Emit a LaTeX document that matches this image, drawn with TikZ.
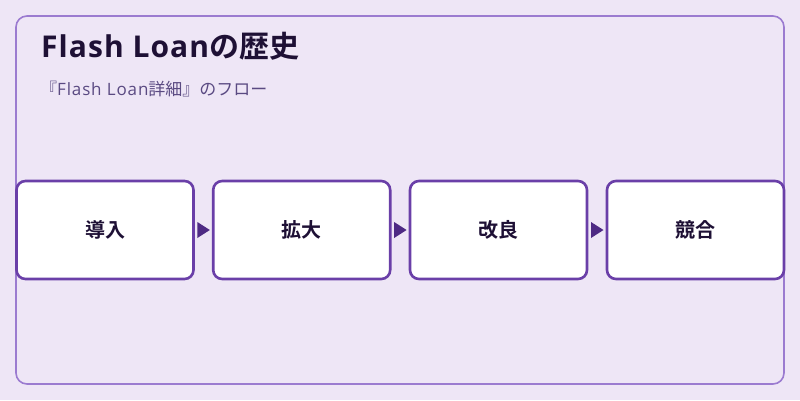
\documentclass[tikz,border=0pt]{standalone}
\usepackage{fontspec}
\setmainfont{Open Sans}
\newfontfamily\jp{Noto Sans CJK JP}
\newfontfamily\jpbold{Noto Sans CJK JP Bold}
\usetikzlibrary{positioning}
\definecolor{bg}{HTML}{EEE6F6}
\definecolor{frame}{HTML}{9B7BD0}
\definecolor{boxline}{HTML}{6A3FA8}
\definecolor{arrowc}{HTML}{4E2A84}
\definecolor{titlec}{HTML}{1E1035}
\definecolor{subc}{HTML}{5A4A82}
\tikzset{
  stepbox/.style={draw=boxline, line width=2.6pt, fill=white, rounded corners=9pt,
    minimum width=177pt, minimum height=98pt, inner sep=0pt,
    font=\jpbold\fontsize{20}{24}\selectfont, text=titlec},
  tri/.style={fill=arrowc, draw=none}
}
\begin{document}
\begin{tikzpicture}[x=1pt,y=-1pt]
\useasboundingbox (0,0) rectangle (800,400);
\fill[bg] (0,0) rectangle (800,400);
\draw[frame, line width=1.6pt, rounded corners=11pt] (16,16) rectangle (784,384);
\node[anchor=base west, inner sep=0pt, text=titlec, font=\fontsize{30}{34}\selectfont] (title) at (41,57) {{\bfseries\addfontfeature{LetterSpace=3.5}Flash Loan}{\jpbold の歴史}};
\node[anchor=base west, inner sep=0pt, text=subc, font=\fontsize{17}{20}\selectfont] (sub) at (40,95) {{\jp 『}{\addfontfeature{LetterSpace=5}Flash Loan}{\jp 詳細』のフロー}};
\node[stepbox] (s1) at (105,230) {導入};
\node[stepbox] (s2) at (301.7,230) {拡大};
\node[stepbox] (s3) at (498.5,230) {改良};
\node[stepbox] (s4) at (695.5,230) {競合};
\foreach \a/\b in {s1/s2,s2/s3,s3/s4}{
  \path (\a.east) -- (\b.west) coordinate[pos=0.5] (m\a);
  \fill[tri] ([xshift=-6pt,yshift=-8pt]m\a) -- ([xshift=6.5pt]m\a) -- ([xshift=-6pt,yshift=8pt]m\a) -- cycle;
}
\end{tikzpicture}
\end{document}
